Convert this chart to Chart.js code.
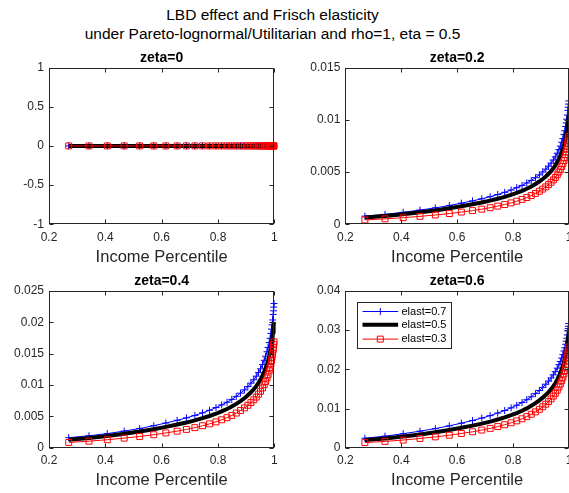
<!DOCTYPE html>
<html>
<head>
<meta charset="utf-8">
<script src="https://cdn.jsdelivr.net/npm/chart.js@4.4.1/dist/chart.umd.min.js"></script>
<style>
  html, body { margin: 0; padding: 0; background: #fff; }
  body { width: 569px; height: 493px; position: relative; overflow: hidden; font-family: "Liberation Sans", Arial, sans-serif; }
  #title { position: absolute; left: 0; top: 4.5px; width: 545px; text-align: center; font-size: 15.5px; line-height: 19px; color: #000; }
  canvas { position: absolute; }
</style>
</head>
<body>
<div id="title">LBD effect and Frisch elasticity<br>under Pareto-lognormal/Utilitarian and rho=1, eta = 0.5</div>
<canvas id="c0" width="284" height="230" style="left:0;top:40px"></canvas>
<canvas id="c1" width="273" height="230" style="left:296px;top:40px"></canvas>
<canvas id="c2" width="284" height="229" style="left:0;top:264px"></canvas>
<canvas id="c3" width="273" height="229" style="left:296px;top:264px"></canvas>
<script>
// income percentile of each point
const xPct = [0.27, 0.342, 0.407, 0.467, 0.522, 0.572, 0.615, 0.655, 0.688, 0.718, 0.745, 0.77, 0.793, 0.813, 0.832, 0.849, 0.865, 0.88, 0.894, 0.906, 0.917, 0.927, 0.936, 0.944, 0.951, 0.958, 0.964, 0.969, 0.974, 0.978, 0.982, 0.985, 0.988, 0.990, 0.992, 0.994, 0.996, 0.997, 0.998, 0.999];

const legendLabels = ["elast=0.7", "elast=0.5", "elast=0.3"];
const panelTitles = ["zeta=0", "zeta=0.2", "zeta=0.4", "zeta=0.6"];

// zeta = 0
const z0Blue = [0,0,0,0,0,0,0,0,0,0,0,0,0,0,0,0,0,0,0,0,0,0,0,0,0,0,0,0,0,0,0,0,0,0,0,0,0,0,0,0];
const z0Black = [0,0,0,0,0,0,0,0,0,0,0,0,0,0,0,0,0,0,0,0,0,0,0,0,0,0,0,0,0,0,0,0,0,0,0,0,0,0,0,0];
const z0Red = [0,0,0,0,0,0,0,0,0,0,0,0,0,0,0,0,0,0,0,0,0,0,0,0,0,0,0,0,0,0,0,0,0,0,0,0,0,0,0,0];

// zeta = 0.2
const z2Blue = [0.00078,0.00095,0.00115,0.00136,0.00157,0.0018,0.00202,0.00224,0.00244,0.00264,0.00285,0.00306,0.00328,0.0035,0.00372,0.00395,0.0042,0.00446,0.00473,0.005,0.00528,0.00556,0.00585,0.00615,0.00645,0.0068,0.00715,0.00748,0.00785,0.0082,0.0086,0.00895,0.00935,0.0097,0.01005,0.01045,0.0109,0.0112,0.0115,0.0118];
const z2Black = [0.00066,0.0008,0.00097,0.00115,0.00133,0.00153,0.00172,0.00191,0.00208,0.00226,0.00244,0.00262,0.00281,0.003,0.0032,0.0034,0.00362,0.00385,0.00409,0.00433,0.00458,0.00483,0.00509,0.00536,0.00563,0.00595,0.00627,0.00657,0.00691,0.00723,0.00759,0.0079,0.00826,0.00857,0.00888,0.00922,0.0096,0.00987,0.01012,0.0104];
const z2Red = [0.00042,0.00052,0.00063,0.00076,0.00089,0.00103,0.00117,0.00131,0.00145,0.00159,0.00174,0.00189,0.00205,0.00221,0.00238,0.00256,0.00275,0.00295,0.00316,0.00337,0.00358,0.0038,0.00402,0.00425,0.00448,0.00474,0.005,0.00525,0.00553,0.0058,0.0061,0.00637,0.00667,0.00692,0.00717,0.00745,0.00777,0.00797,0.00818,0.0084];

// zeta = 0.4
const z4Blue = [0.0016,0.0019,0.00225,0.00265,0.00306,0.00351,0.00394,0.00437,0.00476,0.00515,0.00556,0.00597,0.0064,0.00683,0.00725,0.0077,0.00819,0.0087,0.00922,0.00975,0.0103,0.01084,0.01141,0.01199,0.01258,0.01326,0.01394,0.01459,0.01531,0.01599,0.01677,0.01745,0.01823,0.01892,0.0196,0.02038,0.02126,0.02184,0.02243,0.023];
const z4Black = [0.00128,0.00155,0.00187,0.00222,0.00257,0.00295,0.00332,0.00369,0.00401,0.00436,0.00471,0.00506,0.00542,0.00579,0.00618,0.00656,0.00699,0.00743,0.00789,0.00836,0.00884,0.00932,0.00982,0.01034,0.01087,0.01148,0.0121,0.01268,0.01334,0.01395,0.01465,0.01525,0.01594,0.01654,0.01714,0.01779,0.01853,0.01905,0.01953,0.02007];
const z4Red = [0.00084,0.00104,0.00127,0.00153,0.00179,0.00207,0.00236,0.00264,0.00292,0.0032,0.0035,0.0038,0.00412,0.00445,0.00479,0.00515,0.00553,0.00593,0.00635,0.00677,0.0072,0.00764,0.00808,0.00854,0.009,0.00953,0.01005,0.01055,0.01112,0.01166,0.01226,0.0128,0.0134,0.0139,0.01441,0.01497,0.01562,0.01602,0.01644,0.01688];

// zeta = 0.6
const z6Blue = [0.00242,0.00295,0.00357,0.00422,0.00487,0.00558,0.00626,0.00694,0.00756,0.00818,0.00884,0.00949,0.01017,0.01085,0.01153,0.01225,0.013,0.0138,0.0146,0.0154,0.0162,0.017,0.0178,0.0186,0.0194,0.0203,0.0212,0.022,0.0229,0.02375,0.0247,0.0255,0.0264,0.0272,0.02795,0.0288,0.0298,0.0304,0.031,0.0317];
const z6Black = [0.00195,0.00236,0.00286,0.00339,0.00392,0.00451,0.00507,0.00563,0.00614,0.00667,0.0072,0.00773,0.00829,0.00885,0.00944,0.01003,0.01068,0.01136,0.01207,0.01277,0.0135,0.0142,0.01495,0.0157,0.01645,0.01735,0.01825,0.0191,0.02005,0.02095,0.02195,0.0228,0.0238,0.02465,0.0255,0.0264,0.02745,0.02815,0.0288,0.0294];
const z6Red = [0.0013,0.00161,0.00195,0.00236,0.00276,0.00319,0.00363,0.00406,0.0045,0.00493,0.00539,0.00586,0.00636,0.00685,0.00738,0.00794,0.00853,0.00915,0.0098,0.01045,0.0111,0.01178,0.01246,0.01318,0.01389,0.01469,0.0155,0.01625,0.0171,0.01795,0.01885,0.0197,0.0206,0.02135,0.0221,0.02295,0.0239,0.0245,0.0251,0.0257];

// ticks
const xTicks = [0.2, 0.4, 0.6, 0.8, 1];
const xTickLabels = ["0.2", "0.4", "0.6", "0.8", "1"];
const z0Ticks = [-1, -0.5, 0, 0.5, 1];
const z2Ticks = [0, 0.005, 0.01, 0.015];
const z4Ticks = [0, 0.005, 0.01, 0.015, 0.02, 0.025];
const z6Ticks = [0, 0.01, 0.02, 0.03, 0.04];

const FONT = '"Liberation Sans", Arial, sans-serif';
const AXIS = "#262626";

// MATLAB-like box with inward ticks
const boxPlugin = {
  id: "matlabBox",
  afterDatasetsDraw(chart) {
    const { ctx, chartArea: a, scales: { x, y } } = chart;
    const L = Math.round(a.left) + 0.5, R = Math.round(a.right) - 0.5;
    const T = Math.round(a.top) + 0.5, B = Math.round(a.bottom) - 0.5;
    ctx.save();
    ctx.strokeStyle = AXIS;
    ctx.lineWidth = 1;
    ctx.strokeRect(L, T, R - L, B - T);
    ctx.beginPath();
    x.ticks.forEach(t => {
      const px = Math.round(x.getPixelForValue(t.value)) + 0.5;
      ctx.moveTo(px, B); ctx.lineTo(px, B - 4);
      ctx.moveTo(px, T); ctx.lineTo(px, T + 4);
    });
    y.ticks.forEach(t => {
      const py = Math.round(y.getPixelForValue(t.value)) + 0.5;
      ctx.moveTo(L, py); ctx.lineTo(L + 4, py);
      ctx.moveTo(R, py); ctx.lineTo(R - 4, py);
    });
    ctx.stroke();
    ctx.restore();
  }
};

// legend box inside the plot (only zeta=0.6)
const insetLegend = {
  id: "insetLegend",
  afterDraw(chart, args, opts) {
    if (!opts.show) return;
    const { ctx, chartArea: a } = chart;
    const left = Math.round(a.left) + 12.5, top = Math.round(a.top) + 11.5;
    const w = 94, h = 46, rows = [9, 22.3, 36.6];
    ctx.save();
    ctx.fillStyle = "#fff";
    ctx.fillRect(left, top, w, h);
    ctx.strokeStyle = AXIS;
    ctx.lineWidth = 1;
    ctx.strokeRect(left, top, w, h);
    chart.data.datasets.forEach((ds, i) => {
      const yy = top + rows[i];
      ctx.strokeStyle = ds.borderColor;
      ctx.lineWidth = ds.borderWidth;
      ctx.beginPath();
      ctx.moveTo(left + 5, yy);
      ctx.lineTo(left + 40.6, yy);
      ctx.stroke();
      if (ds.pointRadius > 0) {
        ctx.lineWidth = 1;
        ctx.fillStyle = "rgba(0,0,0,0)";
        Chart.helpers.drawPoint(ctx, { pointStyle: ds.pointStyle, radius: ds.pointRadius, borderWidth: 1, rotation: 0 }, left + 22.8, yy);
      }
      ctx.fillStyle = "#000";
      ctx.font = "11px " + FONT;
      ctx.textBaseline = "middle";
      ctx.textAlign = "left";
      ctx.fillText(ds.label, left + 44, yy);
    });
    ctx.restore();
  }
};

function makeSets(blue, black, red) {
  const pts = ys => xPct.map((x, i) => ({ x, y: ys[i] }));
  return [
    { label: legendLabels[0], data: pts(blue), borderColor: "#0000ff", borderWidth: 1,
      pointStyle: "cross", pointRadius: 3.5, pointBorderColor: "#0000ff", pointBorderWidth: 1, order: 2, clip: false },
    { label: legendLabels[1], data: pts(black), borderColor: "#000000", borderWidth: 4,
      pointRadius: 0, order: 1, clip: false },
    { label: legendLabels[2], data: pts(red), borderColor: "#ff0000", borderWidth: 1,
      pointStyle: "rect", pointRadius: 4.2, pointBackgroundColor: "rgba(0,0,0,0)", pointBorderColor: "#ff0000", pointBorderWidth: 1, order: 0, clip: false }
  ];
}

function makeChart(id, title, sets, yTicks, g) {
  new Chart(document.getElementById(id), {
    type: "line",
    data: { datasets: sets },
    options: {
      responsive: false,
      animation: false,
      events: [],
      elements: { line: { tension: 0 } },
      layout: { autoPadding: false, padding: { left: 0, top: 0, right: g.padRight, bottom: 0 } },
      plugins: {
        legend: { display: false },
        tooltip: { enabled: false },
        title: { display: true, fullSize: false, text: title, color: "#000",
          font: { family: FONT, size: 14, weight: "bold", lineHeight: 1.2 },
          padding: { top: g.titleTop, bottom: g.titleBottom } },
        insetLegend: { show: !!g.legend }
      },
      scales: {
        x: {
          type: "linear", min: 0.2, max: 1,
          grid: { display: false, drawTicks: false }, border: { display: false },
          afterBuildTicks: s => { s.ticks = xTicks.map(v => ({ value: v })); },
          afterFit: s => { s.height = g.xHeight; s.paddingLeft = 0; s.paddingRight = 0; },
          ticks: { callback: (v, i) => xTickLabels[i], color: AXIS, font: { family: FONT, size: 12 }, padding: 6, maxRotation: 0, autoSkip: false },
          title: { display: true, text: "Income Percentile", color: AXIS, font: { family: FONT, size: 16.5, lineHeight: 1.2 }, padding: { top: 0, bottom: 3 } }
        },
        y: {
          type: "linear", min: yTicks[0], max: yTicks[yTicks.length - 1],
          grid: { display: false, drawTicks: false }, border: { display: false },
          afterBuildTicks: s => { s.ticks = yTicks.map(v => ({ value: v })); },
          afterFit: s => { s.width = g.yWidth; s.paddingTop = 0; s.paddingBottom = 0; },
          ticks: { callback: v => String(v), color: AXIS, font: { family: FONT, size: 12 }, padding: 5, autoSkip: false }
        }
      }
    },
    plugins: [boxPlugin, insetLegend]
  });
}

const topRow = { titleTop: 9.9, titleBottom: 0.8, xHeight: 45.7 };
const botRow = { titleTop: 8.6, titleBottom: 1.6, xHeight: 45.3 };

makeChart("c0", panelTitles[0], makeSets(z0Blue, z0Black, z0Red), z0Ticks, { ...topRow, padRight: 9.7, yWidth: 49 });
makeChart("c1", panelTitles[1], makeSets(z2Blue, z2Black, z2Red), z2Ticks, { ...topRow, padRight: 0, yWidth: 49.3 });
makeChart("c2", panelTitles[2], makeSets(z4Blue, z4Black, z4Red), z4Ticks, { ...botRow, padRight: 9.7, yWidth: 49 });
makeChart("c3", panelTitles[3], makeSets(z6Blue, z6Black, z6Red), z6Ticks, { ...botRow, padRight: 0, yWidth: 49.3, legend: true });
</script>
</body>
</html>
